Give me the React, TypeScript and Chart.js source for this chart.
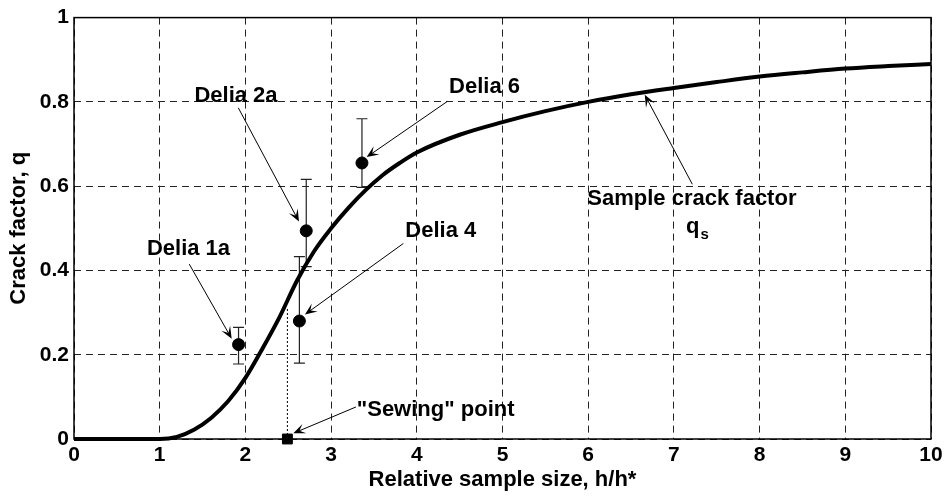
import React, { useEffect, useRef } from 'react';
import { Chart, registerables } from 'chart.js';

Chart.register(...registerables);

// ---- data ----
const curveX = [0, 0.5, 1, 1.2, 1.4, 1.6, 1.8, 2.0, 2.2, 2.4, 2.6, 2.8, 3.0, 3.2, 3.4, 3.6, 3.8, 4.0, 4.5, 5, 5.5, 6, 6.5, 7, 7.5, 8, 8.5, 9, 9.5, 10];
const curveQ = [0, 0, 0, 0.005, 0.022, 0.05, 0.09, 0.145, 0.215, 0.29, 0.375, 0.445, 0.5, 0.548, 0.59, 0.626, 0.655, 0.68, 0.722, 0.752, 0.778, 0.8, 0.818, 0.833, 0.847, 0.86, 0.87, 0.879, 0.885, 0.89];

const deliaNames = ['Delia 1a', 'Delia 2a', 'Delia 4', 'Delia 6'];
const deliaX = [1.92, 2.71, 2.63, 3.36];
const deliaQ = [0.224, 0.494, 0.28, 0.655];
const deliaLow = [0.178, 0.409, 0.18, 0.597];
const deliaHigh = [0.265, 0.616, 0.433, 0.76];

const sewingX = 2.49;
const sewingQ = 0;
const sewingCurveQ = 0.313;

const xTickValues = [0, 1, 2, 3, 4, 5, 6, 7, 8, 9, 10];
const yTickValues = [0, 0.2, 0.4, 0.6, 0.8, 1];

const xTitle = 'Relative sample size, h/h*';
const yTitle = 'Crack factor, q';

// annotation texts with their anchor (data units) and arrows (from -> tip)
const labelText = ['Delia 1a', 'Delia 2a', 'Delia 4', 'Delia 6', '"Sewing" point', 'Sample crack factor'];
const labelX = [1.336, 1.89, 4.28, 4.79, 4.22, 7.21];
const labelQ = [0.452, 0.815, 0.494, 0.835, 0.069, 0.57];
const arrowFromX = [1.345, 1.917, 3.843, 4.356, 3.29, 7.215];
const arrowFromQ = [0.415, 0.786, 0.464, 0.801, 0.076, 0.6045];
const arrowToX = [1.84, 2.625, 2.695, 3.415, 2.559, 6.66];
const arrowToQ = [0.238, 0.516, 0.2955, 0.669, 0.0135, 0.817];
const qsX = 7.22;
const qsQ = 0.489;

const FONT = '"Liberation Sans", Arial, Helvetica, sans-serif';

export default function App() {
  const ref = useRef<HTMLCanvasElement>(null);

  useEffect(() => {
    document.body.style.margin = '0';
    const canvas = ref.current;
    if (!canvas) return;

    const annot = {
      id: 'annot',
      beforeDatasetsDraw(chart: any) {
        const { ctx, scales } = chart;
        const xs = scales.x;
        const ys = scales.y;
        ctx.save();
        ctx.strokeStyle = '#222';
        ctx.lineWidth = 1.2;
        for (let i = 0; i < deliaX.length; i++) {
          const px = xs.getPixelForValue(deliaX[i]);
          const pl = ys.getPixelForValue(deliaLow[i]);
          const ph = ys.getPixelForValue(deliaHigh[i]);
          ctx.beginPath();
          ctx.moveTo(px, pl);
          ctx.lineTo(px, ph);
          ctx.moveTo(px - 5.5, pl);
          ctx.lineTo(px + 5.5, pl);
          ctx.moveTo(px - 5.5, ph);
          ctx.lineTo(px + 5.5, ph);
          ctx.stroke();
        }
        ctx.restore();
      },
      afterDatasetsDraw(chart: any) {
        const { ctx, scales, chartArea } = chart;
        const xs = scales.x;
        const ys = scales.y;
        ctx.save();
        // plot box
        ctx.strokeStyle = '#000';
        ctx.lineWidth = 1.5;
        ctx.strokeRect(chartArea.left, chartArea.top, chartArea.right - chartArea.left, chartArea.bottom - chartArea.top);

        // arrows
        ctx.lineWidth = 1;
        ctx.fillStyle = '#000';
        for (let i = 0; i < arrowFromX.length; i++) {
          const x0 = xs.getPixelForValue(arrowFromX[i]);
          const y0 = ys.getPixelForValue(arrowFromQ[i]);
          const x1 = xs.getPixelForValue(arrowToX[i]);
          const y1 = ys.getPixelForValue(arrowToQ[i]);
          const dx = x1 - x0;
          const dy = y1 - y0;
          const len = Math.hypot(dx, dy);
          const ux = dx / len;
          const uy = dy / len;
          const nx = -uy;
          const ny = ux;
          const L = 12;
          const W = 5;
          ctx.beginPath();
          ctx.moveTo(x0, y0);
          ctx.lineTo(x1 - ux * L * 0.5, y1 - uy * L * 0.5);
          ctx.stroke();
          ctx.beginPath();
          ctx.moveTo(x1, y1);
          ctx.lineTo(x1 - ux * L + nx * W, y1 - uy * L + ny * W);
          ctx.lineTo(x1 - ux * L * 0.55, y1 - uy * L * 0.55);
          ctx.lineTo(x1 - ux * L - nx * W, y1 - uy * L - ny * W);
          ctx.closePath();
          ctx.fill();
        }

        // labels
        ctx.font = `bold 22px ${FONT}`;
        ctx.textAlign = 'center';
        ctx.textBaseline = 'middle';
        for (let i = 0; i < labelText.length; i++) {
          ctx.fillText(labelText[i], xs.getPixelForValue(labelX[i]), ys.getPixelForValue(labelQ[i]));
        }
        // q with subscript s
        const qx = xs.getPixelForValue(qsX);
        const qy = ys.getPixelForValue(qsQ);
        ctx.textBaseline = 'alphabetic';
        ctx.textAlign = 'center';
        ctx.fillText('q', qx, qy);
        const qw = ctx.measureText('q').width;
        ctx.font = `bold 15px ${FONT}`;
        ctx.textAlign = 'left';
        ctx.fillText('s', qx + qw / 2 + 1, qy + 6);
        ctx.restore();
      },
    };

    const tickFont = { family: FONT, size: 21, weight: 'bold' as const };
    const titleFont = { family: FONT, size: 22, weight: 'bold' as const };

    const chart = new Chart(canvas, {
      type: 'scatter',
      data: {
        datasets: [
          {
            label: 'Delia',
            data: deliaX.map((x, i) => ({ x, y: deliaQ[i] })),
            backgroundColor: '#000',
            borderColor: '#000',
            pointRadius: 6,
            pointHoverRadius: 6,
            clip: false,
            order: 0,
          } as any,
          {
            label: 'Sewing point',
            data: [{ x: sewingX, y: sewingQ }],
            pointStyle: 'rect',
            backgroundColor: '#000',
            borderColor: '#000',
            pointRadius: 7,
            pointHoverRadius: 7,
            clip: false,
            order: 0,
          } as any,
          {
            type: 'line',
            label: 'Sample crack factor',
            data: curveX.map((x, i) => ({ x, y: curveQ[i] })),
            borderColor: '#000',
            borderWidth: 4,
            pointRadius: 0,
            fill: false,
            clip: false,
            cubicInterpolationMode: 'monotone',
            order: 2,
          } as any,
          {
            type: 'line',
            label: 'sewing guide',
            data: [
              { x: sewingX, y: sewingQ },
              { x: sewingX, y: sewingCurveQ },
            ],
            borderColor: '#000',
            borderWidth: 1,
            borderDash: [2, 2],
            pointRadius: 0,
            fill: false,
            order: 3,
          } as any,
        ],
      },
      options: {
        animation: false,
        responsive: true,
        maintainAspectRatio: false,
        layout: { padding: { left: 0, right: 18, top: 16, bottom: 0 } },
        plugins: { legend: { display: false }, tooltip: { enabled: false } },
        scales: {
          x: {
            type: 'linear',
            min: 0,
            max: 10,
            afterBuildTicks: (s: any) => {
              s.ticks = xTickValues.map((v) => ({ value: v }));
            },
            afterFit: (s: any) => {
              s.height = 60;
            },
            ticks: { font: tickFont, color: '#000', padding: 4, maxRotation: 0, autoSkip: false },
            grid: { color: '#222', lineWidth: 1, drawTicks: false },
            border: { display: false, dash: [7, 5] },
            title: { display: true, text: xTitle, font: titleFont, color: '#000', padding: { top: 0, bottom: 6 } },
          },
          y: {
            type: 'linear',
            min: 0,
            max: 1,
            afterBuildTicks: (s: any) => {
              s.ticks = yTickValues.map((v) => ({ value: v }));
            },
            afterFit: (s: any) => {
              s.width = 74;
            },
            ticks: {
              font: tickFont,
              color: '#000',
              padding: 5,
              autoSkip: false,
              callback: (v: any) => String(Math.round(Number(v) * 10) / 10),
            },
            grid: { color: '#222', lineWidth: 1, drawTicks: false },
            border: { display: false, dash: [7, 5] },
            title: { display: true, text: yTitle, font: titleFont, color: '#000', padding: { top: 6, bottom: 0 } },
          },
        },
      },
      plugins: [annot],
    });

    return () => chart.destroy();
  }, []);

  return (
    <div style={{ position: 'absolute', left: 0, top: 0, width: 949, height: 499 }}>
      <canvas ref={ref} />
    </div>
  );
}
